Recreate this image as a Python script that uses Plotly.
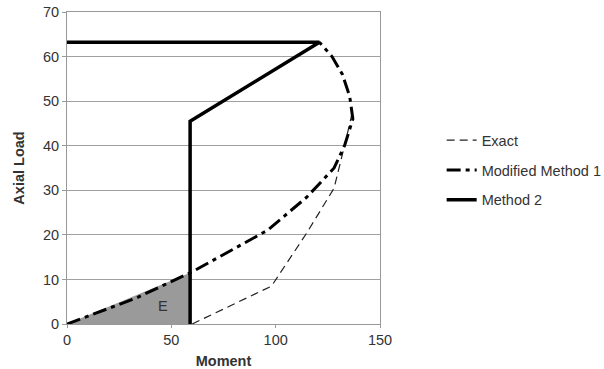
import plotly.graph_objects as go

# Data
exact_x = [60, 98, 115, 128, 133, 136, 137]
exact_y = [0, 8.5, 20.5, 30.5, 40, 46, 48]

mod1_x = [0, 33, 60, 96, 115, 128, 133, 137, 135.5, 132, 127, 121]
mod1_y = [0, 5.8, 11.7, 21, 28.5, 35, 40, 46, 51, 56, 60, 63.2]

m2_x = [0, 121, 59, 59]
m2_y = [63.2, 63.2, 45.5, 0]

e_x = [0, 59, 59, 0]
e_y = [0, 11.5, 0, 0]

FONT = "Liberation Sans, Arial"
TXT = "#333333"
FS = 14.5

fig = go.Figure()

fig.add_trace(go.Scatter(x=e_x, y=e_y, fill="toself", fillcolor="#9a9a9a",
                         line=dict(width=0), mode="lines", showlegend=False,
                         hoverinfo="skip"))

fig.add_trace(go.Scatter(x=exact_x, y=exact_y, mode="lines", name="Exact",
                         legendgroup="a",
                         line=dict(color="#222222", width=1.2, dash="8px,5px")))
fig.add_trace(go.Scatter(x=mod1_x, y=mod1_y, mode="lines", name="Modified Method 1",
                         legendgroup="b",
                         line=dict(color="#000000", width=3, dash="14px,5px,4px,5px")))
fig.add_trace(go.Scatter(x=m2_x, y=m2_y, mode="lines", name="Method 2",
                         legendgroup="c",
                         line=dict(color="#000000", width=3.5)))

fig.add_annotation(x=46, y=4, text="E", showarrow=False,
                   font=dict(family=FONT, size=FS, color=TXT))

fig.update_layout(
    width=604, height=369,
    margin=dict(l=67, r=224, t=12, b=45, autoexpand=False),
    paper_bgcolor="white", plot_bgcolor="white",
    font=dict(family=FONT, size=FS, color=TXT),
    legend=dict(x=1.197, y=0.493, xanchor="left", yanchor="middle",
                tracegroupgap=8, font=dict(family=FONT, size=FS, color=TXT)),
    xaxis=dict(range=[0, 150], dtick=50, showgrid=False, zeroline=False,
               showline=True, linecolor="#999999", linewidth=1, mirror=True,
               ticks="outside", ticklen=3, tickcolor="#999999", automargin=False,
               ticklabeloverflow="allow",
               tickfont=dict(family=FONT, size=FS, color=TXT),
               title=dict(text="<b>Moment</b>", standoff=8,
                          font=dict(family=FONT, size=FS, color=TXT))),
    yaxis=dict(range=[0, 70], dtick=10, showgrid=True, gridcolor="#a0a0a0", gridwidth=1,
               zeroline=False, showline=True, linecolor="#999999", linewidth=1, mirror=True,
               ticks="outside", ticklen=4, tickcolor="#999999", automargin=False,
               ticklabeloverflow="allow",
               tickfont=dict(family=FONT, size=FS, color=TXT),
               title=dict(text="<b>Axial Load</b>", standoff=14,
                          font=dict(family=FONT, size=FS, color=TXT))),
)

fig.write_html("out.html", config={"displayModeBar": False},
               post_script="document.body.style.margin='0';")
